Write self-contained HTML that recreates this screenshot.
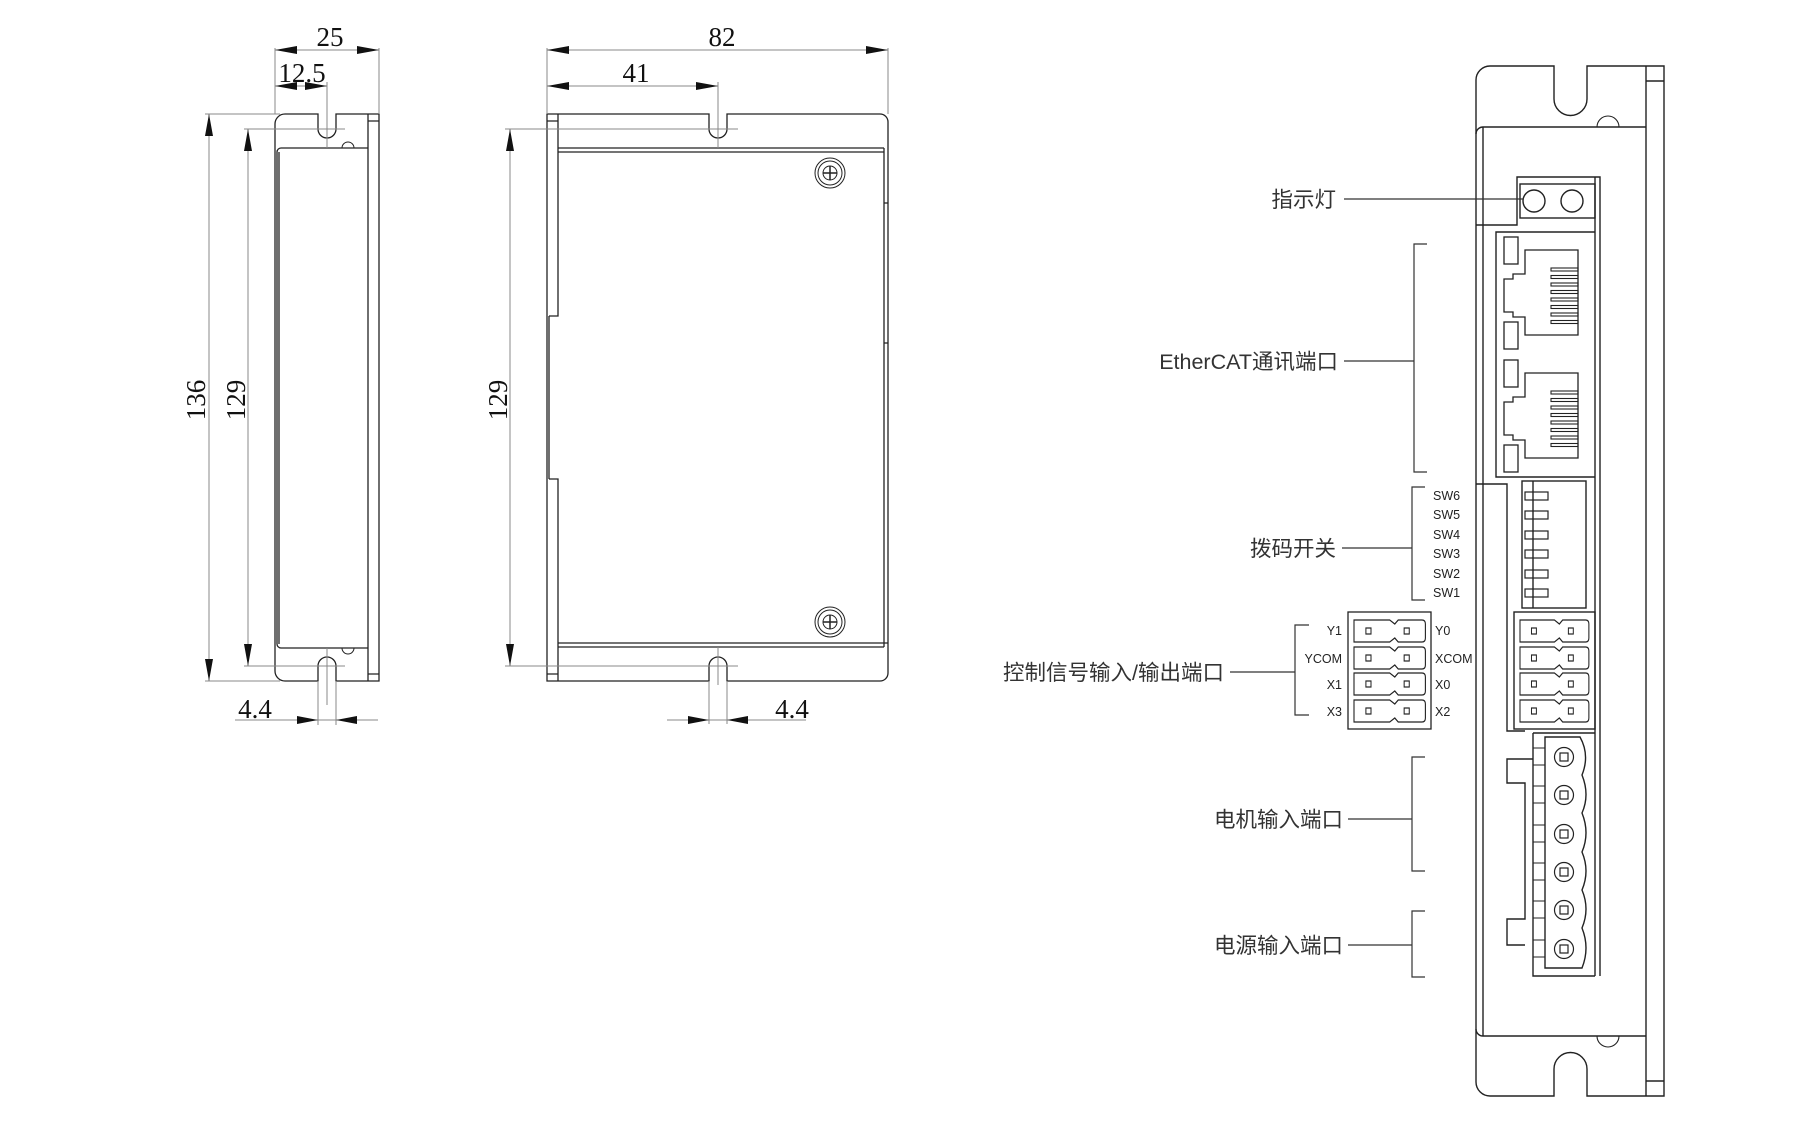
<!DOCTYPE html>
<html><head><meta charset="utf-8"><style>
html,body{margin:0;padding:0;background:#fff;}
svg{display:block;}
.d{font-family:"Liberation Serif",serif;font-size:27px;fill:#111;}
.c{font-family:"Liberation Sans","Noto Sans CJK SC",sans-serif;font-size:21.5px;fill:#333;}
.s{font-family:"Liberation Sans","Noto Sans CJK SC",sans-serif;font-size:12.5px;fill:#222;}
</style></head><body>
<svg width="1800" height="1122" viewBox="0 0 1800 1122" xmlns="http://www.w3.org/2000/svg">
<defs>
<g id="pin"><path d="M0,0 H42 L48,4 L52,0 H80 Q84,0 84,4 V18 Q84,22 80,22 H52 L48,18 L42,22 H0 Z" fill="none" stroke="#222" stroke-width="1.3"/><rect x="14" y="8" width="6" height="6" fill="none" stroke="#222" stroke-width="1.2"/><rect x="59" y="8" width="6" height="6" fill="none" stroke="#222" stroke-width="1.2"/></g>
<g id="rj">
<rect x="0" y="0" width="14" height="27" fill="none" stroke="#222" stroke-width="1.3"/>
<rect x="0" y="85" width="14" height="27" fill="none" stroke="#222" stroke-width="1.3"/>
<path d="M21,13 H74 V98 H21 V80 H9 V75 H0 V42 H9 V37 H21 Z" fill="none" stroke="#222" stroke-width="1.3"/>
<g fill="none" stroke="#222" stroke-width="1.1">
<rect x="47" y="31" width="27" height="3"/><rect x="47" y="38.5" width="27" height="3"/><rect x="47" y="46" width="27" height="3"/><rect x="47" y="53.5" width="27" height="3"/><rect x="47" y="61" width="27" height="3"/><rect x="47" y="68.5" width="27" height="3"/><rect x="47" y="76" width="27" height="3"/><rect x="47" y="83.5" width="27" height="3"/></g>
</g>
<g id="scr"><circle r="15" fill="none" stroke="#222" stroke-width="1"/><circle r="12" fill="none" stroke="#222" stroke-width="1"/><circle r="7" fill="none" stroke="#222" stroke-width="1"/><path d="M-7,0 H7 M0,-7 V7" stroke="#222" stroke-width="1.5"/></g>
</defs>

<!-- ========== SIDE VIEW ========== -->
<g fill="none" stroke="#222" stroke-width="1.3">
<path d="M285,114 H318 V129 A9,9 0 0 0 336,129 V114 H379 V681 H336 V666 A9,9 0 0 0 318,666 V681 H285 A10,10 0 0 1 275,671 V124 A10,10 0 0 1 285,114 Z"/>
<path d="M368,114 V681 M368,121 H379 M368,674 H379"/>
<path d="M281,148 H368 M281,148 A4,4 0 0 0 277,152 V644 A4,4 0 0 0 281,648 H368 M279,152 V644"/>
<path d="M342,148 A6,6 0 0 1 354,148 M342,648 A6,6 0 0 0 354,648" stroke-width="1"/>
</g>
<g stroke="#888" stroke-width="1" fill="none">
<path d="M275,48 V114 M379,48 V114 M327,82 V148 M327,648 V705 M318,681 V725 M336,681 V725"/>
<path d="M205,114 H280 M244,129 H345 M205,681 H280 M244,666 H345"/>
<path d="M275,50 H379 M275,86 H327 M209,114 V681 M248,129 V666 M235,720 H378"/>
</g>
<g fill="#111">
<path d="M275,50 l22,-4 v8 z M379,50 l-22,-4 v8 z"/>
<path d="M275,86 l22,-4 v8 z M327,86 l-22,-4 v8 z"/>
<path d="M209,114 l-4,22 h8 z M209,681 l-4,-22 h8 z"/>
<path d="M248,129 l-4,22 h8 z M248,666 l-4,-22 h8 z"/>
<path d="M318,720 l-21,-4 v8 z M336,720 l21,-4 v8 z"/>
</g>
<text class="d" x="330" y="46" text-anchor="middle">25</text>
<text class="d" x="302" y="82" text-anchor="middle">12.5</text>
<text class="d" x="255" y="718" text-anchor="middle">4.4</text>
<text class="d" transform="translate(205,400) rotate(-90)" text-anchor="middle">136</text>
<text class="d" transform="translate(245,400) rotate(-90)" text-anchor="middle">129</text>

<!-- ========== FRONT VIEW ========== -->
<g fill="none" stroke="#222" stroke-width="1.3">
<path d="M547,114 H709 V129 A9,9 0 0 0 727,129 V114 H880 A8,8 0 0 1 888,122 V673 A8,8 0 0 1 880,681 H727 V666 A9,9 0 0 0 709,666 V681 H547 Z"/>
<path d="M558,114 V316 H549 M549,316 V479 M549,479 H558 V681"/>
<path d="M558,148 H884 M558,152 H884 M558,643 H884 M558,647 H884 M884,148 V647 M884,203 H888 M884,343 H888 M884,643 H888"/>
<path d="M547,121 H558 M547,674 H558"/>
</g>
<use href="#scr" x="830" y="173"/>
<use href="#scr" x="830" y="622"/>
<g stroke="#888" stroke-width="1" fill="none">
<path d="M547,48 V114 M888,48 V114 M718,82 V148 M718,647 V685 M709,681 V724 M727,681 V724"/>
<path d="M505,129 H738 M505,666 H738"/>
<path d="M547,50 H888 M547,86 H718 M510,129 V666 M667,720 H806"/>
</g>
<g fill="#111">
<path d="M547,50 l22,-4 v8 z M888,50 l-22,-4 v8 z"/>
<path d="M547,86 l22,-4 v8 z M718,86 l-22,-4 v8 z"/>
<path d="M510,129 l-4,22 h8 z M510,666 l-4,-22 h8 z"/>
<path d="M709,720 l-21,-4 v8 z M727,720 l21,-4 v8 z"/>
</g>
<text class="d" x="722" y="46" text-anchor="middle">82</text>
<text class="d" x="636" y="82" text-anchor="middle">41</text>
<text class="d" x="792" y="718" text-anchor="middle">4.4</text>
<text class="d" transform="translate(507,400) rotate(-90)" text-anchor="middle">129</text>

<!-- ========== PANEL VIEW ========== -->
<g fill="none" stroke="#222" stroke-width="1.4">
<path d="M1490,66 H1554 V99 A16.5,16.5 0 0 0 1587,99 V66 H1664 V1096 H1587 V1069 A16.5,16.5 0 0 0 1554,1069 V1096 H1490 A14,14 0 0 1 1476,1082 V80 A14,14 0 0 1 1490,66 Z"/>
<path d="M1646,66 V1096 M1646,81 H1664 M1646,1081 H1664"/>
<path d="M1483,127 H1646 M1483,127 A7,7 0 0 0 1476,134 M1483,127 V1036 H1646 M1476,1029 A7,7 0 0 0 1483,1036"/>
<path d="M1597,127 A11,11 0 0 1 1619,127 M1597,1036 A11,11 0 0 0 1619,1036" stroke-width="1.1"/>
<path d="M1476,225 H1517 V177 H1600 V976"/>
<path d="M1595,177 V976"/>
<rect x="1520" y="184" width="75" height="34"/>
<circle cx="1534" cy="201" r="11"/>
<circle cx="1572" cy="201" r="11"/>
<path d="M1595,232 H1496 V477 H1595"/>
<path d="M1476,484 H1507 V731 H1525"/>
<rect x="1522" y="481" width="64" height="127"/>
<path d="M1533,481 V608"/>
<rect x="1514" y="612" width="81" height="117"/>
<path d="M1533,733 V976 H1595 M1533,733 H1595"/>
<path d="M1533,759 H1507 V783 H1525 V919 H1507 V945 H1525"/>
<path d="M1545,737 H1580 Q1590,755 1582,775 Q1590,795 1582,813 Q1590,833 1582,852 Q1590,871 1582,890 Q1590,909 1582,928 Q1590,948 1582,968 H1545 Z"/>
<path d="M1545,748 H1533 M1545,765 H1533 M1545,786 H1533 M1545,803 H1533 M1545,825 H1533 M1545,842 H1533 M1545,863 H1533 M1545,880 H1533 M1545,901 H1533 M1545,918 H1533 M1545,940 H1533 M1545,957 H1533" stroke-width="1.1"/>
</g>
<use href="#rj" x="1504" y="237"/>
<use href="#rj" x="1504" y="360"/>
<g fill="none" stroke="#222" stroke-width="1.2">
<rect x="1525" y="492" width="23" height="8"/><rect x="1525" y="511" width="23" height="8"/><rect x="1525" y="531" width="23" height="8"/><rect x="1525" y="550" width="23" height="8"/><rect x="1525" y="570" width="23" height="8"/><rect x="1525" y="589" width="23" height="8"/>
</g>
<g transform="translate(1520,620) scale(0.82,1)"><use href="#pin" y="0"/><use href="#pin" y="27"/><use href="#pin" y="53"/><use href="#pin" y="80"/></g>
<g fill="none" stroke="#222" stroke-width="1.2">
<circle cx="1564" cy="757" r="9.5"/><rect x="1560" y="753" width="8" height="8"/>
<circle cx="1564" cy="795" r="9.5"/><rect x="1560" y="791" width="8" height="8"/>
<circle cx="1564" cy="834" r="9.5"/><rect x="1560" y="830" width="8" height="8"/>
<circle cx="1564" cy="872" r="9.5"/><rect x="1560" y="868" width="8" height="8"/>
<circle cx="1564" cy="910" r="9.5"/><rect x="1560" y="906" width="8" height="8"/>
<circle cx="1564" cy="949" r="9.5"/><rect x="1560" y="945" width="8" height="8"/>
</g>

<!-- callouts -->
<g fill="none" stroke="#333" stroke-width="1.2">
<path d="M1344,199 H1523"/>
<path d="M1344,361 H1414 M1427,244 H1414 V472 H1427"/>
<path d="M1342,548 H1412 M1425,487 H1412 V600 H1425"/>
<path d="M1230,672 H1295 M1309,625 H1295 V715 H1309"/>
<path d="M1348,819 H1412 M1425,757 H1412 V871 H1425"/>
<path d="M1348,945 H1412 M1425,911 H1412 V977 H1425"/>
</g>
<rect x="1348" y="612" width="83" height="117" fill="none" stroke="#222" stroke-width="1.3"/>
<g transform="translate(1354,620) scale(0.85,1)"><use href="#pin" y="0"/><use href="#pin" y="27"/><use href="#pin" y="53"/><use href="#pin" y="80"/></g>

<text class="c" x="1336" y="207" text-anchor="end">指示灯</text>
<text class="c" x="1338" y="369" text-anchor="end">EtherCAT通讯端口</text>
<text class="c" x="1336" y="556" text-anchor="end">拨码开关</text>
<text class="c" x="1224" y="680" text-anchor="end">控制信号输入/输出端口</text>
<text class="c" x="1343" y="827" text-anchor="end">电机输入端口</text>
<text class="c" x="1343" y="953" text-anchor="end">电源输入端口</text>
<g class="s">
<text x="1433" y="500">SW6</text><text x="1433" y="519">SW5</text><text x="1433" y="539">SW4</text><text x="1433" y="558">SW3</text><text x="1433" y="578">SW2</text><text x="1433" y="597">SW1</text>
<text x="1342" y="635" text-anchor="end">Y1</text><text x="1342" y="663" text-anchor="end">YCOM</text><text x="1342" y="689" text-anchor="end">X1</text><text x="1342" y="716" text-anchor="end">X3</text>
<text x="1435" y="635">Y0</text><text x="1435" y="663">XCOM</text><text x="1435" y="689">X0</text><text x="1435" y="716">X2</text>
</g>
</svg>
</body></html>
